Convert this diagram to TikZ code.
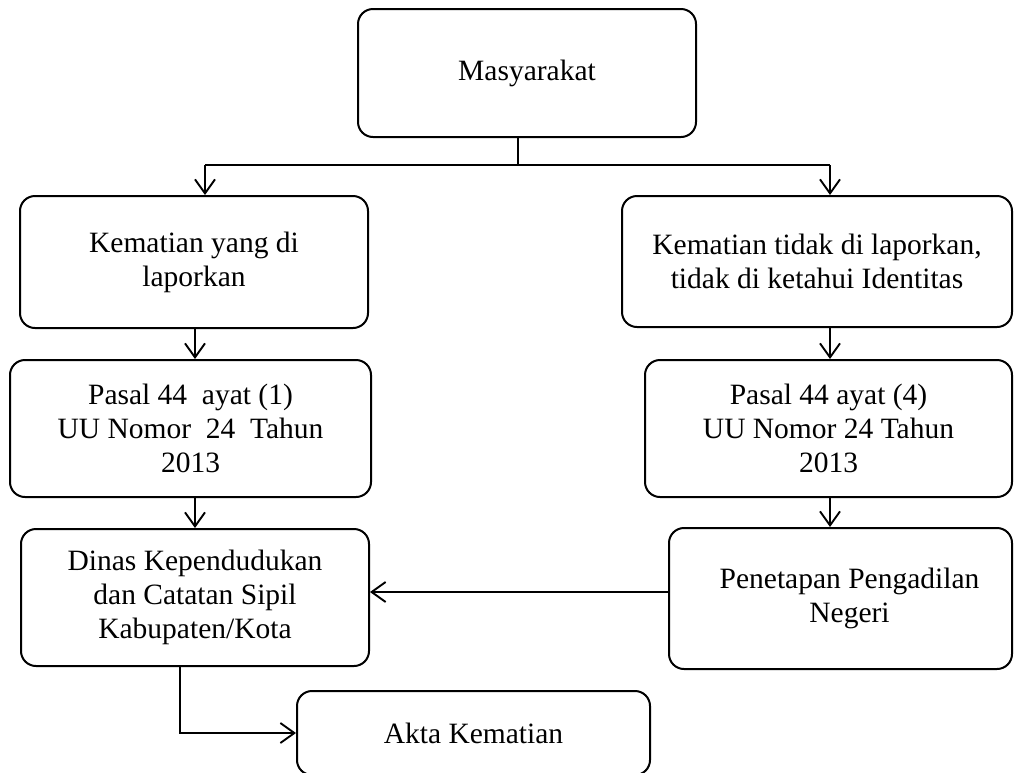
\documentclass[tikz,border=0pt]{standalone}
\usepackage{fontspec}
\setmainfont{Liberation Serif}
\usetikzlibrary{arrows.meta}
\tikzset{
  box/.style={draw=black, line width=2pt, rounded corners=15pt, align=center, inner sep=0pt,
              font=\fontsize{29.5}{34}\selectfont},
  arr/.style={draw=black, line width=1.9pt, -{Straight Barb[length=14pt,width=20pt,line width=1.9pt]}},
  ln/.style={draw=black, line width=2.6pt},
}
\begin{document}
\begin{tikzpicture}[x=1pt,y=-1pt]
\clip (0,0) rectangle (1014,772);
\fill[white] (0,0) rectangle (1014,772);
\node[box, minimum width=338pt, minimum height=128pt] (mas) at (527,73) {Masyarakat};
\node[box, minimum width=348pt, minimum height=132pt] (kyl) at (194,262) {Kematian yang di\\laporkan};
\node[box, minimum width=390pt, minimum height=131pt] (ktl) at (817,261.5) {Kematian tidak di laporkan,\\tidak di ketahui Identitas};
\node[box, minimum width=361pt, minimum height=137pt] (p1) at (190.5,428.5) {Pasal 44\ \ ayat (1)\\UU Nomor\ \ 24\ \ Tahun\\2013};
\node[box, minimum width=367pt, minimum height=137pt] (p4) at (828.5,428.5) {Pasal 44 ayat (4)\\UU Nomor 24 Tahun\\2013};
\node[box, minimum width=348pt, minimum height=137pt] (dinas) at (195,597.5) {Dinas Kependudukan\\dan Catatan Sipil\\Kabupaten/Kota};
\node[box, minimum width=343pt, minimum height=141pt] (pen) at (840.5,598.5) {\hspace*{18pt}Penetapan Pengadilan\\\hspace*{18pt}Negeri};
\node[box, minimum width=353pt, minimum height=84pt] (akta) at (473.5,733) {Akta Kematian};
\coordinate (fork) at (518,165);
\coordinate (fL) at (205,165);
\coordinate (fR) at (830,165);
\coordinate (hy) at (0,592);
\coordinate (dl) at (180,0);
\draw[ln] (fork |- mas.south) -- (fork);
\draw[ln] (fork) -- (fL);
\draw[ln] (fork) -- (fR);
\draw[arr] (fL) -- (fL |- kyl.north);
\draw[arr] (fR) -- (fR |- ktl.north);
\draw[arr] (kyl.south -| dinas.north) -- (p1.north -| dinas.north);
\draw[arr] (p1.south -| dinas.north) -- (dinas.north);
\draw[arr] (ktl.south -| fR) -- (p4.north -| fR);
\draw[arr] (p4.south -| fR) -- (pen.north -| fR);
\draw[arr] (pen.west |- hy) -- (dinas.east |- hy);
\draw[arr] (dinas.south -| dl) |- (akta.west);
\end{tikzpicture}
\end{document}
